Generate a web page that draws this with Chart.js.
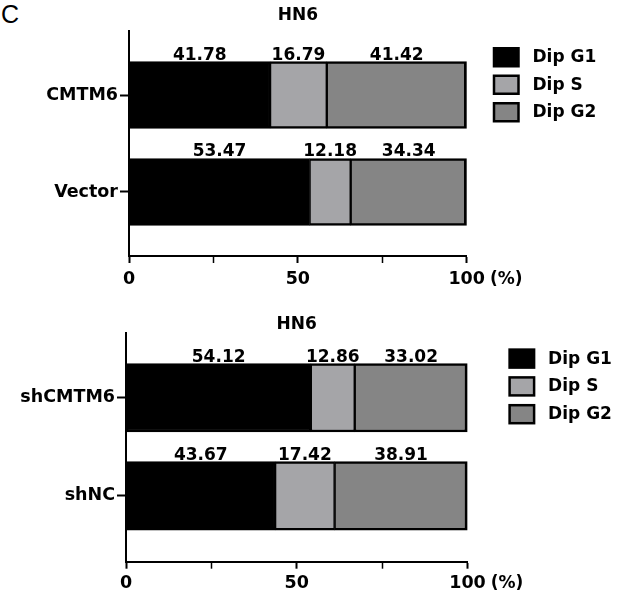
<!DOCTYPE html>
<html>
<head>
<meta charset="utf-8">
<script src="https://cdn.jsdelivr.net/npm/chart.js@4"></script>
<style>
  body { margin: 0; background: #fff; width: 627px; height: 595px; position: relative; overflow: hidden; }
  .panel { position: absolute; left: 0; width: 627px; }
  #topPanel { top: 0; height: 300px; }
  #bottomPanel { top: 300px; height: 295px; }
  #letter { position: absolute; left: 1px; top: 2px; font: 25px/25px "Liberation Sans", Arial, sans-serif; color: #000; }
</style>
</head>
<body>
<div id="letter">C</div>
<div class="panel" id="topPanel"><canvas id="chartTop" width="627" height="300"></canvas></div>
<div class="panel" id="bottomPanel"><canvas id="chartBottom" width="627" height="295"></canvas></div>
<script>
// cell cycle phases, same for both panels
const phases = ['Dip G1', 'Dip S', 'Dip G2'];
const phaseColors = ['#000000', '#a5a5a8', '#858585'];

// overexpression panel
const overTitle = 'HN6';
const overGroups = ['CMTM6', 'Vector'];
const overG1 = [41.78, 53.47];
const overS = [16.79, 12.18];
const overG2 = [41.42, 34.34];

// knockdown panel
const knockTitle = 'HN6';
const knockGroups = ['shCMTM6', 'shNC'];
const knockG1 = [54.12, 43.67];
const knockS = [12.86, 17.42];
const knockG2 = [33.02, 38.91];

// x axis
const xTicks = [0, 25, 50, 75, 100];
const xLabels = ['0', '', '50', '', '100'];
const xUnit = '(%)';

const FONT = '"DejaVu Sans", "Liberation Sans", Arial, sans-serif';

// values written above each segment
const valueLabels = {
  id: 'valueLabels',
  afterDatasetsDraw(chart) {
    const ctx = chart.ctx;
    ctx.save();
    ctx.font = 'bold 17px ' + FONT;
    ctx.fillStyle = '#000';
    ctx.textAlign = 'center';
    ctx.textBaseline = 'alphabetic';
    chart.data.datasets.forEach((ds, i) => {
      chart.getDatasetMeta(i).data.forEach((bar, j) => {
        const p = bar.getProps(['x', 'y', 'base', 'height'], true);
        ctx.fillText(ds.data[j].x.toFixed(2), (p.x + p.base) / 2, p.y - p.height / 2 - 2);
      });
    });
    ctx.restore();
  }
};

// legend boxes on the right + unit after the last tick
const sideLegend = {
  id: 'sideLegend',
  afterDraw(chart, args, opts) {
    const ctx = chart.ctx;
    ctx.save();
    chart.data.datasets.forEach((ds, i) => {
      const y = opts.y + i * opts.gap;
      ctx.fillStyle = ds.backgroundColor;
      ctx.fillRect(opts.x, y, 24.5, 18);
      ctx.lineWidth = 2.5;
      ctx.strokeStyle = '#000';
      ctx.strokeRect(opts.x, y, 24.5, 18);
      ctx.fillStyle = '#000';
      ctx.font = 'bold 17px ' + FONT;
      ctx.textAlign = 'left';
      ctx.textBaseline = 'middle';
      ctx.fillText(ds.label, opts.x + 38.5, y + 9.5);
    });

    const xs = chart.scales.x;
    ctx.font = 'bold 17px ' + FONT;
    ctx.textAlign = 'left';
    ctx.textBaseline = 'middle';
    ctx.fillText(xUnit, xs.getPixelForValue(100) + 23.3, xs.top + 7 + opts.tickPad + 10.5);
    ctx.restore();
  }
};

function makeChart(id, title, groups, series, L) {
  const datasets = phases.map((name, i) => ({
    label: name,
    data: groups.map((g, j) => ({ x: series[i][j], y: j })),
    backgroundColor: phaseColors[i],
    borderColor: '#000',
    borderWidth: { top: 2.5, bottom: 2.5, left: 1.5, right: i === phases.length - 1 ? 3 : 1.5 },
    borderSkipped: false,
    barThickness: L.barThickness
  }));

  return new Chart(document.getElementById(id), {
    type: 'bar',
    data: { datasets: datasets },
    options: {
      indexAxis: 'y',
      responsive: false,
      animation: false,
      devicePixelRatio: 1,
      layout: { padding: { left: 0, top: 0, right: 627 - L.right, bottom: 0 } },
      plugins: {
        legend: { display: false },
        tooltip: { enabled: false },
        title: {
          display: true,
          text: title,
          fullSize: false,
          color: '#000',
          font: { family: FONT, size: 17, weight: 'bold', lineHeight: 1 },
          padding: { top: L.titleTop, bottom: L.top - L.titleTop - 17 }
        },
        sideLegend: { x: L.legendX, y: L.legendY, gap: L.legendGap, tickPad: L.tickPad }
      },
      scales: {
        x: {
          type: 'linear',
          position: 'bottom',
          stacked: true,
          min: 0,
          max: 100,
          afterBuildTicks: (scale) => { scale.ticks = xTicks.map(v => ({ value: v })); },
          afterFit: (scale) => { scale.height = L.canvasH - L.bottom; },
          border: { display: true, color: '#000', width: 2 },
          grid: {
            drawOnChartArea: false,
            drawTicks: true,
            tickLength: 7,
            tickColor: '#000',
            tickWidth: (c) => (c.tick && c.tick.value % 50 === 0 ? 2 : 1.5)
          },
          ticks: {
            autoSkip: false,
            maxRotation: 0,
            padding: L.tickPad,
            color: '#000',
            font: { family: FONT, size: 17.5, weight: 'bold' },
            callback: (v, i) => xLabels[i]
          }
        },
        y: {
          type: 'linear',
          stacked: true,
          reverse: true,
          offset: false,
          min: -0.66,
          max: L.yMax,
          afterBuildTicks: (scale) => { scale.ticks = groups.map((g, i) => ({ value: i })); },
          afterFit: (scale) => { scale.width = L.left; },
          border: { display: true, color: '#000', width: 2 },
          grid: { offset: false, drawOnChartArea: false, drawTicks: true, tickLength: 9, tickColor: '#000', tickWidth: 2 },
          ticks: {
            autoSkip: false,
            padding: 2,
            color: '#000',
            font: { family: FONT, size: 17.5, weight: 'bold' },
            callback: (v) => groups[v]
          }
        }
      }
    },
    plugins: [valueLabels, sideLegend]
  });
}

makeChart('chartTop', overTitle, overGroups, [overG1, overS, overG2], {
  canvasH: 300, left: 129, right: 466.7, top: 31, bottom: 256, yMax: 1.66,
  titleTop: 7.5, barThickness: 67, tickPad: 6,
  legendX: 494, legendY: 48.25, legendGap: 27.5
});

makeChart('chartBottom', knockTitle, knockGroups, [knockG1, knockS, knockG2], {
  canvasH: 295, left: 126, right: 467.5, top: 33, bottom: 261.7, yMax: 1.67,
  titleTop: 16, barThickness: 68.5, tickPad: 4,
  legendX: 509.6, legendY: 49.6, legendGap: 27.8
});
</script>
</body>
</html>
